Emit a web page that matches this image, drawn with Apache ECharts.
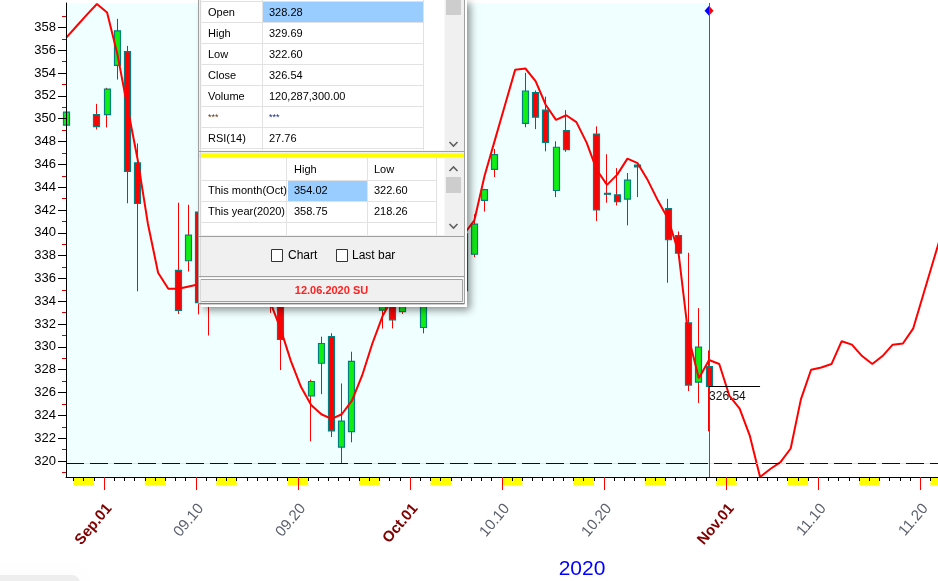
<!DOCTYPE html>
<html><head><meta charset="utf-8">
<script src="https://cdn.jsdelivr.net/npm/echarts@6/dist/echarts.min.js"></script>
<style>html,body{margin:0;padding:0;background:#fff;}#c{width:938px;height:581px;}</style>
</head><body><div id="c"></div>
<script>
// ---------- data ----------
const candleDates = ['2020-08-28','2020-08-31','2020-09-01','2020-09-02','2020-09-03','2020-09-04','2020-09-08','2020-09-09','2020-09-10','2020-09-11','2020-09-14','2020-09-15','2020-09-16','2020-09-17','2020-09-18','2020-09-21','2020-09-22','2020-09-23','2020-09-24','2020-09-25','2020-09-28','2020-09-29','2020-09-30','2020-10-01','2020-10-02','2020-10-05','2020-10-06','2020-10-07','2020-10-08','2020-10-09','2020-10-12','2020-10-13','2020-10-14','2020-10-15','2020-10-16','2020-10-19','2020-10-20','2020-10-21','2020-10-22','2020-10-23','2020-10-26','2020-10-27','2020-10-28','2020-10-29','2020-10-30'];
const opens  = [349.44,350.35,350.35,354.67,355.87,346.13,336.71,337.55,341.82,335.82,337.49,341.12,341.51,333.56,335.37,325.70,328.57,330.90,321.22,322.58,333.22,333.97,333.09,337.69,331.70,336.06,339.91,338.12,342.85,345.56,349.59,352.28,350.75,343.71,348.96,348.65,343.46,343.33,342.96,345.93,342.13,339.76,332.10,326.91,328.28];
const highs  = [350.72,351.30,352.71,358.75,356.38,347.83,342.64,342.46,342.53,336.97,340.38,343.06,342.98,337.70,335.49,327.13,330.90,331.20,326.80,329.58,334.96,334.77,338.29,338.74,337.02,339.96,342.17,341.63,343.85,347.35,354.02,352.47,351.93,348.02,350.75,349.33,346.88,345.67,345.24,345.99,342.98,340.12,338.25,333.40,329.69];
const lows   = [348.15,349.06,349.24,353.43,342.59,334.87,332.88,336.61,332.85,331.00,334.22,338.52,338.68,332.99,327.97,321.73,325.86,322.10,319.80,321.64,331.61,331.62,332.88,335.01,331.19,336.01,334.38,337.87,341.86,344.89,349.25,349.09,347.14,343.13,347.10,341.04,342.64,342.40,340.65,343.13,335.62,337.99,326.13,325.09,322.60];
const closes = [350.58,349.31,352.60,357.70,345.39,342.57,333.21,339.79,333.89,334.06,338.46,340.17,338.82,335.84,330.65,326.97,330.30,322.64,323.50,328.73,334.19,332.37,334.89,337.04,333.84,339.76,334.93,340.76,343.78,346.85,352.43,350.13,347.93,347.50,347.29,342.01,343.38,342.73,344.61,345.78,339.39,338.22,326.66,329.98,326.54];

// forecast line: one value per calendar day starting at lineStart
const lineStart = '2020-08-28';
const lineValues = [357.1,358.1,359.1,360.05,359.3,355.7,351.0,346.4,340.8,336.5,335.1,335.1,335.3,335.5,336.0,336.3,336.3,336.0,335.4,334.8,333.9,331.6,328.8,326.5,324.9,324.1,323.7,324.1,325.3,327.5,330.3,332.7,334.3,335.5,336.5,337.3,338.0,338.7,339.3,339.9,341.1,345.0,348.1,351.2,354.3,354.4,353.3,351.2,349.9,350.3,349.7,347.9,345.5,344.2,345.1,346.5,346.1,344.6,342.8,341.2,338.3,330.8,327.25,328.85,328.5,325.7,324.6,322.2,318.6,319.3,319.9,321.1,325.4,328.0,328.2,328.5,330.5,330.2,329.2,328.5,329.2,330.2,330.3,331.6,334.6,337.6,340.6];

const xLabelDates = ['2020-09-01','2020-09-10','2020-09-20','2020-10-01','2020-10-10','2020-10-20','2020-11-01','2020-11-10','2020-11-20'];
const xLabelTexts = ['Sep.01','09.10','09.20','Oct.01','10.10','10.20','Nov.01','11.10','11.20'];
const xLabelIsMonth = [true,false,false,true,false,false,true,false,false];
const weekendSaturdays = ['2020-08-29','2020-09-05','2020-09-12','2020-09-19','2020-09-26','2020-10-03','2020-10-10','2020-10-17','2020-10-24','2020-10-31','2020-11-07','2020-11-14','2020-11-21'];
const yLabelValues = [320,322,324,326,328,330,332,334,336,338,340,342,344,346,348,350,352,354,356,358];
const yMinorValues = [319,321,323,325,327,329,331,333,335,337,339,341,343,345,347,349,351,353,355,357,359];
const supportLevel = 319.80;

// ---------- helpers ----------
const DAY0 = Date.UTC(2020, 8, 1);
function dayNum(s){ const p = s.split('-').map(Number); return (Date.UTC(p[0], p[1]-1, p[2]) - DAY0) / 864e5; }
const SHIFT = 0.3;        // bars sit a third of a day right of the day tick
const LABEL_SHIFT = 0.5;  // label anchor offset (style)
const X_MIN = -3.727, X_MAX = 81.74, Y_MIN = 318.6, Y_MAX = 360.14;

const candleX = candleDates.map(s => dayNum(s) + SHIFT);
const wickData = candleX.map((x,i) => [x, opens[i], closes[i], lows[i], highs[i]]);
const bodyData = candleX.map((x,i) => [x, opens[i], closes[i], Math.min(opens[i],closes[i]), Math.max(opens[i],closes[i])]);
const ls = dayNum(lineStart);
const lineData = lineValues.map((v,i) => [ls + i + SHIFT, v]);
const lastX = candleX[candleX.length-1];
const lastClose = closes[closes.length-1];
const dayTicks = []; for (let d = Math.ceil(X_MIN); d <= Math.floor(X_MAX); d++) dayTicks.push(d);
const labelDays = xLabelDates.map(dayNum);
const labelAnchors = labelDays.map(d => d + LABEL_SHIFT);

// ---------- data window panel (graphic overlay) ----------
const FONT = '"Liberation Sans", Arial, sans-serif';
const G = [];
function R(x,y,w,h,fill,stroke,extraStyle){ G.push({type:'rect', z:100, shape:{x:x,y:y,width:w,height:h}, style:Object.assign({fill:fill||'none', stroke:stroke||null, lineWidth:1}, extraStyle||{})}); }
function L(x1,y1,x2,y2,c,w){ G.push({type:'line', z:101, shape:{x1:x1,y1:y1,x2:x2,y2:y2}, style:{stroke:c, lineWidth:w||1}}); }
function T(x,y,s,st){ G.push({type:'text', z:102, x:x, y:y, style:Object.assign({text:s, fill:'#000', font:'11px '+FONT, verticalAlign:'middle', align:'left'}, st||{})}); }
function Arrow(x,y,up){ G.push({type:'polyline', z:102, shape:{points: up ? [[x-4,y+2],[x,y-2],[x+4,y+2]] : [[x-4,y-2],[x,y+2],[x+4,y-2]]}, style:{stroke:'#606060', lineWidth:1.6, fill:null}}); }

R(201,0,266,307,'#ffffff',null,{shadowBlur:8, shadowOffsetX:3, shadowOffsetY:3, shadowColor:'rgba(0,0,0,0.45)'});
R(198.5,-3.5,266,307.5,'#f0f0f0','#a0a0a0');
L(200.5,-3,200.5,303,'#d8d8d8');
// table 1
R(201.5,-1.5,243,152,'#ffffff');
R(263,2,160,20,'#99ccff');
[1.5,22.5,43.5,64.5,85.5,106.5,127.5,148.5].forEach(y => L(201.5,y,423.5,y,'#e2e2e2'));
L(262.5,-1,262.5,150,'#e2e2e2'); L(423.5,-1,423.5,150,'#e2e2e2');
const rows1 = [['Open','328.28'],['High','329.69'],['Low','322.60'],['Close','326.54'],['Volume','120,287,300.00'],['***','***'],['RSI(14)','27.76']];
rows1.forEach((r,i) => {
  const y = 12.5 + 21*i;
  if (r[0] === '***') { T(208,y,'***',{fill:'#5a3a10', font:'9px '+FONT}); T(269,y,'***',{fill:'#1a2a7a', font:'9px '+FONT}); }
  else { T(208,y,r[0]); T(269,y,r[1]); }
});
R(445,-1,17,151,'#f0f0f0'); R(446,-1,15,16,'#cdcdcd'); Arrow(453.5,144,false);
L(199,151.5,464,151.5,'#a0a0a0');
R(199,153.5,265,4,'#ffff00');
// table 2
R(201.5,158,243,77,'#ffffff');
R(288,181,79,20,'#99ccff');
[180.5,201.5,222.5].forEach(y => L(201.5,y,436.5,y,'#e2e2e2'));
[286.5,367.5,436.5].forEach(x => L(x,158,x,235,'#e2e2e2'));
T(294,170,'High'); T(374,170,'Low');
T(208,191,'This month(Oct)'); T(294,191,'354.02'); T(374,191,'322.60');
T(208,212,'This year(2020)'); T(294,212,'358.75'); T(374,212,'218.26');
R(445,158,17,77,'#f0f0f0'); Arrow(453.5,169,true); R(446,177,15,16,'#cdcdcd'); Arrow(453.5,226,false);
L(199,236.5,464,236.5,'#a0a0a0');
// checkboxes
R(271.5,249.5,11,12,'#ffffff','#333333'); T(288,256,'Chart',{font:'12px '+FONT});
R(336.5,249.5,11,12,'#ffffff','#333333'); T(352,256,'Last bar',{font:'12px '+FONT});
L(199,276.5,464,276.5,'#a0a0a0'); L(199,278.5,464,278.5,'#ffffff');
R(200.5,279.5,262,22,'#f0f0f0','#a0a0a0');
T(331.5,291,'12.06.2020 SU',{fill:'#ff2020', font:'bold 11px '+FONT, align:'center'});
L(199,303.5,464,303.5,'#808080');
// faint shadow bottom-left
G.push({type:'rect', z:90, shape:{x:-10,y:575,width:90,height:20, r:8}, style:{fill:'rgba(0,0,0,0.06)', shadowBlur:10, shadowColor:'rgba(0,0,0,0.12)'}});
// year label
G.push({type:'text', z:50, x:582, y:569, style:{text:'2020', fill:'#0000ff', font:'21px '+FONT, align:'center', verticalAlign:'middle'}});

// ---------- chart ----------
const chart = echarts.init(document.getElementById('c'), null, {renderer:'canvas'});
const diamondFill = new echarts.graphic.LinearGradient(0,0,1,0,[{offset:0,color:'#0000ff'},{offset:0.5,color:'#0000ff'},{offset:0.5,color:'#ff0000'},{offset:1,color:'#ff0000'}]);
const LF = '"Liberation Sans", Arial, sans-serif';

chart.setOption({
  animation: false,
  backgroundColor: '#ffffff',
  grid: [
    {left:66, right:0, top:3, bottom:104, containLabel:false},
    {left:66, right:0, top:477, height:8, containLabel:false}
  ],
  xAxis: [
    {type:'value', gridIndex:0, min:X_MIN, max:X_MAX, z:5,
     axisLine:{show:true, onZero:false, lineStyle:{color:'#000', width:1}},
     axisTick:{show:true, customValues:dayTicks, length:4, lineStyle:{color:'#000', width:1}},
     axisLabel:{show:false}, splitLine:{show:false}},
    {type:'value', gridIndex:0, position:'bottom', min:X_MIN, max:X_MAX, z:6,
     axisLine:{show:false, onZero:false},
     axisTick:{show:true, customValues:labelDays, length:13, lineStyle:{color:'#ff0000', width:1}},
     axisLabel:{show:false}, splitLine:{show:false}},
    {type:'value', gridIndex:1, min:X_MIN, max:X_MAX, show:false, axisLine:{onZero:false}},
    {type:'value', gridIndex:0, position:'bottom', min:X_MIN, max:X_MAX, z:6,
     axisLine:{show:false, onZero:false}, axisTick:{show:false}, splitLine:{show:false},
     axisLabel:{show:true, customValues:labelAnchors, rotate:50, margin:29, fontSize:15, fontFamily:LF,
       formatter: v => { const i = labelDays.indexOf(Math.round(v - LABEL_SHIFT)); if (i < 0) return ''; return xLabelIsMonth[i] ? '{m|'+xLabelTexts[i]+'}' : '{n|'+xLabelTexts[i]+'}'; },
       rich:{ m:{color:'#800000', fontWeight:'bold', fontSize:15, fontFamily:LF}, n:{color:'#5a606c', fontSize:15, fontFamily:LF} }}}
  ],
  yAxis: [
    {type:'value', gridIndex:0, position:'left', min:Y_MIN, max:Y_MAX, z:5,
     axisLine:{show:true, onZero:false, lineStyle:{color:'#000', width:1}},
     axisTick:{show:true, customValues:yLabelValues, length:8, lineStyle:{color:'#000'}},
     axisLabel:{show:true, customValues:yLabelValues, margin:10, color:'#000', fontSize:13, fontFamily:LF},
     splitLine:{show:false}},
    {type:'value', gridIndex:0, position:'left', min:Y_MIN, max:Y_MAX, z:5,
     axisLine:{show:false, onZero:false},
     axisTick:{show:true, customValues:yMinorValues, length:4, lineStyle:{color:'#cc0000'}},
     axisLabel:{show:false}, splitLine:{show:false}},
    {type:'value', gridIndex:1, min:0, max:1, show:false, axisLine:{onZero:false}}
  ],
  series: [
    {type:'line', xAxisIndex:2, yAxisIndex:2, data:[[X_MIN,0]], symbol:'none', lineStyle:{opacity:0}, z:1, silent:true,
     markArea:{silent:true, itemStyle:{color:'#ffff00'}, data: weekendSaturdays.map(s => [{xAxis:dayNum(s)},{xAxis:dayNum(s)+2}])}},
    {type:'candlestick', name:'wick', xAxisIndex:0, yAxisIndex:0, data:wickData, barWidth:1, z:2, silent:true,
     itemStyle:{color:'#ff0000', color0:'#ff0000', borderColor:'#ff0000', borderColor0:'#ff0000', borderWidth:1},
     markArea:{silent:true, itemStyle:{color:'#f0ffff'}, data:[[{xAxis:X_MIN},{xAxis:lastX}]]}},
    {type:'candlestick', name:'body', xAxisIndex:0, yAxisIndex:0, data:bodyData, barWidth:6.5, z:3, silent:true,
     itemStyle:{color:'#11ee11', color0:'#ff0000', borderColor:'#008080', borderColor0:'#008080', borderColorDoji:'#008080', borderWidth:1.2},
     markLine:{silent:true, symbol:['none','none'], animation:false,
       label:{show:false},
       data:[
         {yAxis:supportLevel, lineStyle:{color:'#ffff00', type:'solid', width:1}},
         {yAxis:supportLevel, lineStyle:{color:'#000080', type:[18,6], width:1}},
         {xAxis:lastX, lineStyle:{color:'#008080', type:'solid', width:1}},
         [{coord:[lastX,lastClose], lineStyle:{color:'#000', type:'solid', width:1},
           label:{show:true, position:'insideStartBottom', formatter:lastClose.toFixed(2), color:'#111', fontSize:12, fontFamily:LF, distance:[0,4]}},
          {coord:[lastX+5,lastClose]}]
       ]}},
    {type:'line', name:'forecast', xAxisIndex:0, yAxisIndex:0, data:lineData, symbol:'none', z:4, silent:true,
     lineStyle:{color:'#ff0000', width:2},
     markPoint:{silent:true, data:[{coord:[lastX, 359.45], symbol:'diamond', symbolSize:[9,10], itemStyle:{color:diamondFill}, label:{show:false}}]}}
  ],
  graphic: G
});
</script></body></html>
